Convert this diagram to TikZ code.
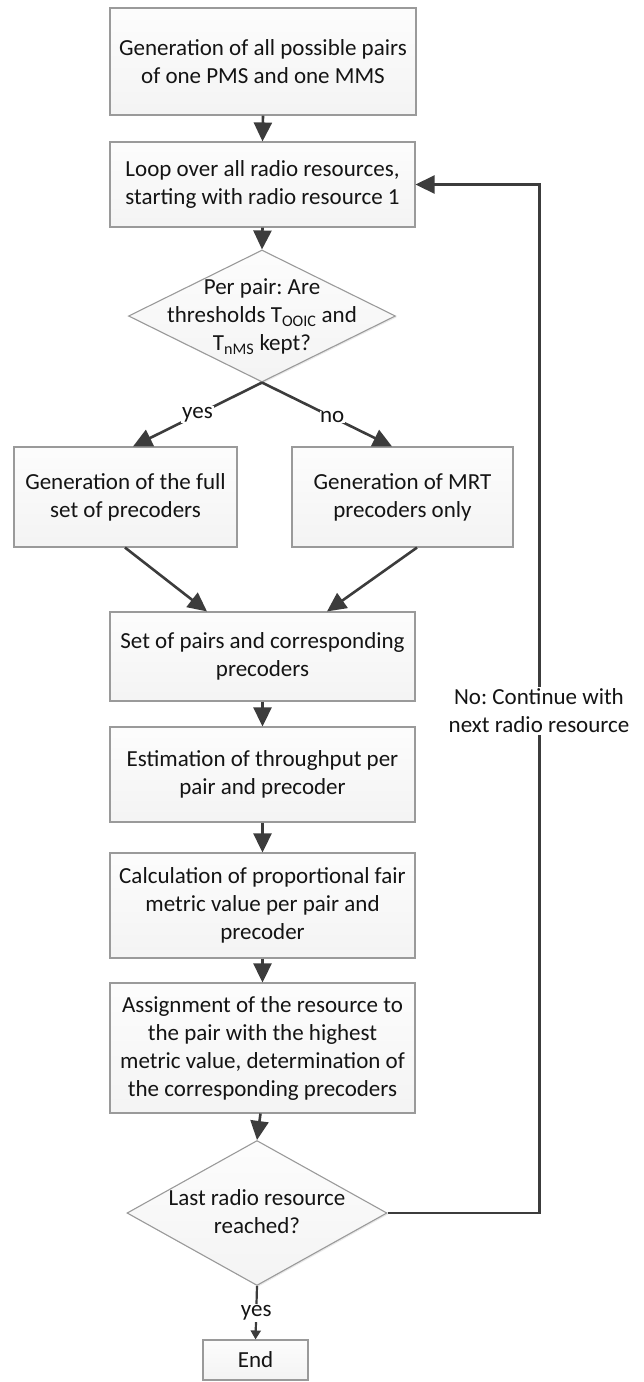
\documentclass[tikz,border=0pt]{standalone}
\usepackage{fontspec}
\setmainfont{Carlito}
\usetikzlibrary{shapes.geometric,arrows.meta,shadows,calc}
\definecolor{arrc}{HTML}{3C3C3C}
\definecolor{bord}{HTML}{9A9A9A}
\definecolor{txt}{HTML}{141414}
\frenchspacing
\begin{document}
\frenchspacing
\begin{tikzpicture}[x=1pt,y=-1pt,
  bigfont/.style={font=\fontsize{23}{28}\selectfont, text=txt},
  box/.style={rectangle, draw=bord, line width=1.1pt, top color=gray!2, bottom color=gray!9,
    inner sep=0pt, align=center, bigfont,
    drop shadow={opacity=0.18, shadow xshift=1.3pt, shadow yshift=-1.3pt}},
  dia/.style={diamond, draw=bord, line width=1.1pt, top color=gray!2, bottom color=gray!9,
    inner sep=0pt, drop shadow={opacity=0.18, shadow xshift=1.3pt, shadow yshift=-1.3pt}},
  diatext/.style={align=center, bigfont, inner sep=0pt},
  arr/.style={draw=arrc, line width=2.6pt, -{Triangle[length=19pt,width=18pt]}},
  smallarr/.style={draw=arrc, line width=2.2pt, -{Triangle[length=9pt,width=10pt]}},
  lbl/.style={fill=white, inner sep=1.5pt, bigfont, align=center}
]
\useasboundingbox (0,0) rectangle (643,1382);

\node[box, minimum width=306pt, minimum height=107pt] (b1) at (263,61.5)
  {Generation of all possible pairs\\of one PMS and one MMS};
\node[box, minimum width=305pt, minimum height=85pt] (b2) at (262.5,184.5)
  {Loop over all radio resources,\\starting with radio resource 1};
\node[dia, minimum width=267pt, minimum height=132pt] (d1) at (262,316) {};
\node[diatext] (d1t) at (262,317)
  {Per pair: Are\\thresholds T\textsubscript{OOIC} and\\T\textsubscript{nMS} kept?};
\node[box, minimum width=223pt, minimum height=100pt] (lb) at (125.5,497)
  {Generation of the full\\set of precoders};
\node[box, minimum width=221pt, minimum height=100pt] (rb) at (402.5,497)
  {Generation of MRT\\precoders only};
\node[box, minimum width=305pt, minimum height=89pt] (sp) at (262.5,656.5)
  {Set of pairs and corresponding\\precoders};
\node[box, minimum width=305pt, minimum height=95pt] (est) at (262.5,774.5)
  {Estimation of throughput per\\pair and precoder};
\node[box, minimum width=305pt, minimum height=105pt] (calc) at (262.5,905.5)
  {Calculation of proportional fair\\metric value per pair and\\precoder};
\node[box, minimum width=305pt, minimum height=130pt] (asg) at (262.5,1048)
  {Assignment of the resource to\\the pair with the highest\\metric value, determination of\\the corresponding precoders};
\node[dia, minimum width=260pt, minimum height=145pt] (d2) at (257,1213) {};
\node[diatext] (d2t) at (257,1212)
  {Last radio resource\\reached?};
\node[box, minimum width=105pt, minimum height=40pt] (end) at (255.5,1360) {End};

\draw[arr] (b1.south) -- (b2.north);
\draw[arr] (b2.south) -- (d1.north);
\draw[arr] (d1.south) -- node[lbl, pos=0.5] (yes1) {yes} ([xshift=7.5pt]lb.north);
\draw[arr] (d1.south) -- node[lbl, pos=0.54, inner sep=0.5pt] (no1) {no} ([xshift=-10.5pt]rb.north);
\draw[arr] ([xshift=-0.5pt]lb.south) -- ([xshift=-55.5pt]sp.north);
\draw[arr] ([xshift=14.5pt]rb.south) -- ([xshift=64.5pt]sp.north);
\draw[arr] (sp.south) -- (est.north);
\draw[arr] (est.south) -- (calc.north);
\draw[arr] (calc.south) -- (asg.north);
\draw[arr] ([xshift=-2pt]asg.south) -- (d2.north);
\draw[smallarr] (d2.south) -- node[lbl, pos=0.5] (yes2) {yes} (end.north);
\draw[arr] (d2.east) -- ++(152,0) coordinate (lc) |- (b2.east);
\node[lbl] (loopl) at (539,711) {No: Continue with\\next radio resource};
\end{tikzpicture}
\end{document}
